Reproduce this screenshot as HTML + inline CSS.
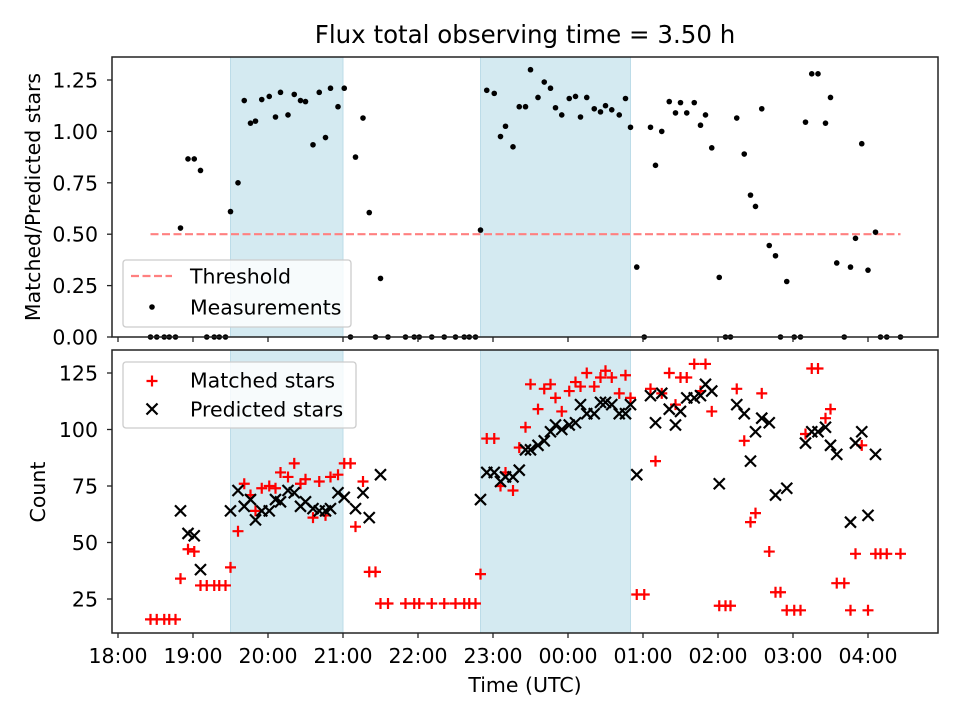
<!DOCTYPE html>
<html><head><meta charset="utf-8"><style>
body{margin:0;background:#fff}
svg{display:block;font-family:"DejaVu Sans","Liberation Sans",sans-serif}
</style></head><body>
<svg id="chart" width="960" height="720" viewBox="0 0 960 720" xmlns="http://www.w3.org/2000/svg">
<rect x="0" y="0" width="960" height="720" fill="#fff"/>
<text x="525" y="43" text-anchor="middle" font-size="24.5">Flux total observing time = 3.50 h</text>
<g id="topPanel"></g>
<g id="botPanel"></g>
<text x="525" y="692" text-anchor="middle" font-size="20.5">Time (UTC)</text>
<text transform="translate(40,197) rotate(-90)" text-anchor="middle" font-size="20.5">Matched/Predicted stars</text>
<text transform="translate(45,492) rotate(-90)" text-anchor="middle" font-size="20.5">Count</text>
</svg>
<script>
// minutes after 18:00 UTC
const ratioTimes=[26,31,37,41,46,50,56,61,66,71,77,81,86,90,96,101,106,110,115,121,126,130,136,141,146,150,156,161,166,170,176,181,186,190,196,201,206,210,216,230,237,241,251,261,270,277,281,286,290,295,301,306,310,316,321,326,330,336,341,346,350,355,361,366,370,375,381,386,390,395,401,406,410,415,421,426,430,435,441,446,450,455,461,466,470,475,481,486,490,495,501,506,510,515,521,526,530,535,541,546,550,555,560,566,570,575,581,586,590,595,600,606,610,615,626];
const ratioValues=[0,0,0,0,0,0.53,0.866,0.866,0.81,0,0,0,0,0.61,0.75,1.15,1.04,1.05,1.155,1.17,1.07,1.19,1.08,1.18,1.15,1.145,0.935,1.19,0.97,1.21,1.12,1.21,0,0.875,1.065,0.605,0,0.285,0,0,0,0,0,0,0,0,0,0,0.52,1.2,1.185,0.975,1.025,0.925,1.12,1.12,1.3,1.165,1.24,1.21,1.115,1.08,1.16,1.17,1.07,1.165,1.11,1.095,1.125,1.105,1.08,1.16,1.02,0.34,0,1.02,0.835,1.0,1.145,1.09,1.14,1.09,1.14,1.03,1.08,0.92,0.29,0,0,1.065,0.89,0.69,0.635,1.11,0.445,0.395,0,0.27,0,0,1.045,1.28,1.28,1.04,1.165,0.36,0,0.34,0.48,0.94,0.325,0.51,0,0,0];
const matchedTimes=ratioTimes;
const matchedValues=[16,16,16,16,16,34,47,46,31,31,31,31,31,39,55,76,71,64,74,75,74,81,79,85,76,78,61,77,62,79,80,85,85,57,77,37,37,23,23,23,23,23,23,23,23,23,23,23,36,96,96,75,81,73,92,101,120,109,118,120,114,108,117,121,119,125,119,123,126,123,116,124,114,27,27,118,86,116,125,111,123,123,129,117,129,108,22,22,22,118,95,59,63,116,46,28,28,20,20,20,98,127,127,105,109,32,32,20,45,93,20,45,45,45,45];
const predTimes=[50,56,61,66,90,96,101,106,110,115,121,126,130,136,141,146,150,156,161,166,170,176,181,190,196,201,210,290,295,301,306,310,316,321,326,330,336,341,346,350,355,361,366,370,375,381,386,390,395,401,406,410,415,426,430,435,441,446,450,455,461,466,470,475,481,495,501,506,510,515,521,526,535,550,555,560,566,570,575,586,590,595,600,606];
const predValues=[64,54,53,38,64,73,66,69,60,64,64,69,68,73,72,66,68,65,64,64,65,72,70,65,72,61,80,69,81,81,77,79,79,82,91,91,93,95,99,102,100,102,103,111,107,107,112,112,111,107,107,111,80,115,103,116,109,102,108,114,114,115,120,117,76,111,107,86,99,105,103,71,74,94,99,99,101,93,89,59,94,99,62,89];
const xTickMins=[0,60,120,180,240,300,360,420,480,540,600];
const xTickLabels=["18:00","19:00","20:00","21:00","22:00","23:00","00:00","01:00","02:00","03:00","04:00"];
const topTicks=[0,0.25,0.5,0.75,1.0,1.25];
const topTickLabels=["0.00","0.25","0.50","0.75","1.00","1.25"];
const botTicks=[25,50,75,100,125];
const nightSpans=[[90,180],[290,410]];
const threshold=[26,626,0.5];

const NS="http://www.w3.org/2000/svg";
const L=112,R=938,TT=57,TB=337,BT=350,BB=633;
const FS=20.5;
const xs=m=>118+m*1.25;
const yt=v=>337-v*205.6;
const yb=c=>599-(c-25)*2.26;
function mk(tag,attrs,parent,txt){const e=document.createElementNS(NS,tag);for(const k in attrs)e.setAttribute(k,attrs[k]);if(txt!==undefined)e.textContent=txt;parent.appendChild(e);return e;}
const topG=document.getElementById('topPanel'),botG=document.getElementById('botPanel');

function panel(g,y0,y1,nm){
  nightSpans.forEach((s,i)=>{
    const r=mk('rect',{x:xs(s[0]),y:y0,width:xs(s[1])-xs(s[0]),height:y1-y0,fill:'#d4eaf1',stroke:'#bcdce8','stroke-width':1},g);
    
    
  });
}
panel(topG,TT,TB,'top');panel(botG,BT,BB,'bottom');

const th=mk('line',{x1:xs(threshold[0]),x2:xs(threshold[1]),y1:yt(threshold[2]),y2:yt(threshold[2]),stroke:'#ff8080','stroke-width':2.2,'stroke-dasharray':'8,3.5'},topG);



ratioTimes.forEach((t,i)=>{
  const c=mk('circle',{cx:xs(t),cy:yt(ratioValues[i]),r:2.8,fill:'#000'},topG);
  
  
});
matchedTimes.forEach((t,i)=>{
  const x=xs(t),y=yb(matchedValues[i]);
  const p=mk('path',{d:`M${x-5.5},${y}H${x+5.5}M${x},${y-5.5}V${y+5.5}`,stroke:'#f00','stroke-width':2.2,fill:'none'},botG);
  
  
});
predTimes.forEach((t,i)=>{
  const x=xs(t),y=yb(predValues[i]);
  const p=mk('path',{d:`M${x-5.5},${y-5.5}L${x+5.5},${y+5.5}M${x-5.5},${y+5.5}L${x+5.5},${y-5.5}`,stroke:'#000','stroke-width':2.2,fill:'none'},botG);
  
  
});

function frame(g,y0,y1,nm){
  const f=mk('rect',{x:L,y:y0,width:R-L,height:y1-y0,fill:'none',stroke:'#222','stroke-width':1.5},g);
  
  
  xTickMins.forEach(m=>{
    const t=mk('line',{x1:xs(m),x2:xs(m),y1:y1,y2:y1+5,stroke:'#222','stroke-width':1.3},g);
    
    
  });
}
frame(topG,TT,TB,'top');frame(botG,BT,BB,'bottom');
xTickMins.forEach((m,i)=>{
  const t=mk('text',{x:xs(m),y:663,'text-anchor':'middle','font-size':FS},botG,xTickLabels[i]);
  
  
});
topTicks.forEach((v,i)=>{
  const l=mk('line',{x1:L-5,x2:L,y1:yt(v),y2:yt(v),stroke:'#222','stroke-width':1.3},topG);
  
  
  const t=mk('text',{x:98,y:yt(v)+7.5,'text-anchor':'end','font-size':FS},topG,topTickLabels[i]);
  
  
});
botTicks.forEach(v=>{
  const l=mk('line',{x1:L-5,x2:L,y1:yb(v),y2:yb(v),stroke:'#222','stroke-width':1.3},botG);
  
  
  const t=mk('text',{x:98,y:yb(v)+7.5,'text-anchor':'end','font-size':FS},botG,String(v));
  
  
});

const lg1=mk('g',{},topG);


mk('rect',{x:123,y:260,width:228,height:67,rx:3,fill:'rgba(255,255,255,0.8)',stroke:'#ccc','stroke-width':1.3},lg1);
mk('line',{x1:131,x2:172,y1:276,y2:276,stroke:'#ff8080','stroke-width':2.2,'stroke-dasharray':'8,3.5'},lg1);
mk('text',{x:190,y:283.5,'font-size':FS},lg1,'Threshold');
mk('circle',{cx:152,cy:307,r:2.8,fill:'#000'},lg1);
mk('text',{x:190,y:314.5,'font-size':FS},lg1,'Measurements');
const lg2=mk('g',{},botG);


mk('rect',{x:123,y:362,width:233,height:66,rx:3,fill:'rgba(255,255,255,0.8)',stroke:'#ccc','stroke-width':1.3},lg2);
mk('path',{d:'M146.5,381H157.5M152,375.5V386.5',stroke:'#f00','stroke-width':2.2},lg2);
mk('text',{x:190,y:387.5,'font-size':FS},lg2,'Matched stars');
mk('path',{d:'M146.5,403.5L157.5,414.5M146.5,414.5L157.5,403.5',stroke:'#000','stroke-width':2.2},lg2);
mk('text',{x:190,y:416.5,'font-size':FS},lg2,'Predicted stars');
</script>
</body></html>
